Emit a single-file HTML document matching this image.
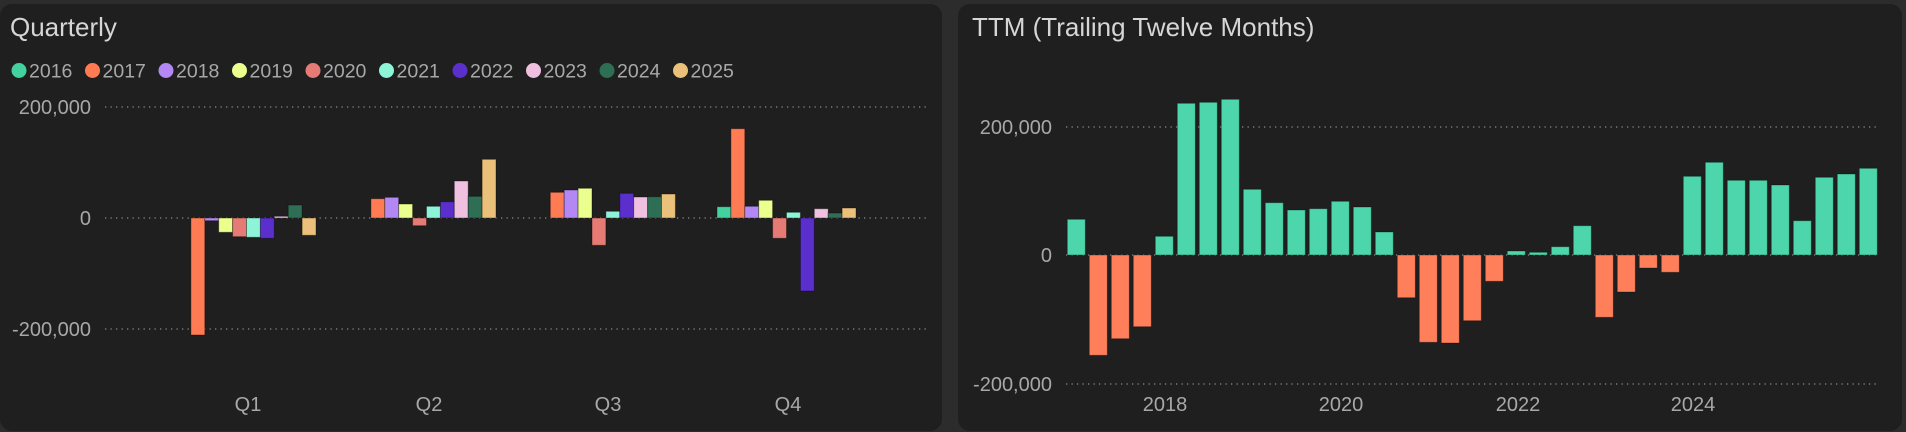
<!DOCTYPE html>
<html><head><meta charset="utf-8"><style>
html,body{margin:0;padding:0;background:#2c2c2c;width:1906px;height:432px;overflow:hidden}
svg{display:block;font-family:"Liberation Sans",sans-serif}
</style></head><body>
<svg width="1906" height="432" viewBox="0 0 1906 432">
<rect x="0" y="0" width="1906" height="432" fill="#2c2c2c"/>
<rect x="0" y="4" width="942" height="427" rx="12" fill="#1f1f1f"/>
<rect x="958" y="4" width="944" height="427" rx="12" fill="#1f1f1f"/>
<text x="10" y="36" font-size="26" fill="#d6d6d6">Quarterly</text>
<text x="972" y="36" font-size="26" fill="#d6d6d6">TTM (Trailing Twelve Months)</text>
<g font-size="19.5" fill="#a8a8a8">
<circle cx="19" cy="70.5" r="7.5" fill="#44d1a0"/><text x="29" y="77.5">2016</text>
<circle cx="92.5" cy="70.5" r="7.5" fill="#ff7b54"/><text x="102.5" y="77.5">2017</text>
<circle cx="166" cy="70.5" r="7.5" fill="#b388f5"/><text x="176" y="77.5">2018</text>
<circle cx="239.5" cy="70.5" r="7.5" fill="#eaff8e"/><text x="249.5" y="77.5">2019</text>
<circle cx="313" cy="70.5" r="7.5" fill="#e57b74"/><text x="323" y="77.5">2020</text>
<circle cx="386.5" cy="70.5" r="7.5" fill="#8ef4d8"/><text x="396.5" y="77.5">2021</text>
<circle cx="460" cy="70.5" r="7.5" fill="#5a2fcb"/><text x="470" y="77.5">2022</text>
<circle cx="533.5" cy="70.5" r="7.5" fill="#f0c0e0"/><text x="543.5" y="77.5">2023</text>
<circle cx="607" cy="70.5" r="7.5" fill="#2d6e55"/><text x="617" y="77.5">2024</text>
<circle cx="680.5" cy="70.5" r="7.5" fill="#ebc07a"/><text x="690.5" y="77.5">2025</text>
</g>
<g stroke="#8a8a8a" stroke-width="1.3" stroke-dasharray="1.3,4.2">
<line x1="105" y1="107" x2="930" y2="107"/><line x1="105" y1="218" x2="930" y2="218"/><line x1="105" y1="329" x2="930" y2="329"/>
<line x1="1066" y1="127" x2="1878" y2="127"/><line x1="1066" y1="255" x2="1878" y2="255"/><line x1="1066" y1="384" x2="1878" y2="384"/>
</g>
<g font-size="20" fill="#a8a8a8" text-anchor="end">
<text x="91" y="114">200,000</text><text x="91" y="225">0</text><text x="91" y="336">-200,000</text>
<text x="1052" y="134">200,000</text><text x="1052" y="262">0</text><text x="1052" y="391">-200,000</text>
</g>
<g font-size="20" fill="#a8a8a8" text-anchor="middle">
<text x="248" y="411">Q1</text><text x="429" y="411">Q2</text><text x="608" y="411">Q3</text><text x="788" y="411">Q4</text>
<text x="1165" y="411">2018</text><text x="1341" y="411">2020</text><text x="1518" y="411">2022</text><text x="1693" y="411">2024</text>
</g>
<g stroke="rgba(0,0,0,0.35)" stroke-width="1">
<!-- Q1 -->
<rect x="190.9" y="218" width="13.9" height="117" fill="#ff7b54"/>
<rect x="204.8" y="218" width="13.9" height="2.7" fill="#b388f5"/>
<rect x="218.7" y="218" width="13.9" height="14.3" fill="#eaff8e"/>
<rect x="232.6" y="218" width="13.9" height="18.7" fill="#e57b74"/>
<rect x="246.5" y="218" width="13.9" height="19.3" fill="#8ef4d8"/>
<rect x="260.4" y="218" width="13.9" height="20.3" fill="#5a2fcb"/>
<rect x="274.3" y="216.3" width="13.9" height="1.7" fill="#f0c0e0"/>
<rect x="288.2" y="205" width="13.9" height="13" fill="#2d6e55"/>
<rect x="302.1" y="218" width="13.9" height="17.3" fill="#ebc07a"/>
<!-- Q2 -->
<rect x="370.9" y="198.7" width="13.9" height="19.3" fill="#ff7b54"/>
<rect x="384.8" y="197.3" width="13.9" height="20.7" fill="#b388f5"/>
<rect x="398.7" y="204" width="13.9" height="14" fill="#eaff8e"/>
<rect x="412.6" y="218" width="13.9" height="7.7" fill="#e57b74"/>
<rect x="426.5" y="206.3" width="13.9" height="11.7" fill="#8ef4d8"/>
<rect x="440.4" y="201.7" width="13.9" height="16.3" fill="#5a2fcb"/>
<rect x="454.3" y="181" width="13.9" height="37" fill="#f0c0e0"/>
<rect x="468.2" y="196.3" width="13.9" height="21.7" fill="#2d6e55"/>
<rect x="482.1" y="159.3" width="13.9" height="58.7" fill="#ebc07a"/>
<!-- Q3 -->
<rect x="550.3" y="192.3" width="13.9" height="25.7" fill="#ff7b54"/>
<rect x="564.2" y="190" width="13.9" height="28" fill="#b388f5"/>
<rect x="578.1" y="188.3" width="13.9" height="29.7" fill="#eaff8e"/>
<rect x="592" y="218" width="13.9" height="27.3" fill="#e57b74"/>
<rect x="605.9" y="211.3" width="13.9" height="6.7" fill="#8ef4d8"/>
<rect x="619.8" y="193.3" width="13.9" height="24.7" fill="#5a2fcb"/>
<rect x="633.7" y="197" width="13.9" height="21" fill="#f0c0e0"/>
<rect x="647.6" y="196.7" width="13.9" height="21.3" fill="#2d6e55"/>
<rect x="661.5" y="194" width="13.9" height="24" fill="#ebc07a"/>
<!-- Q4 -->
<rect x="717" y="206.7" width="13.9" height="11.3" fill="#44d1a0"/>
<rect x="730.9" y="128.7" width="13.9" height="89.3" fill="#ff7b54"/>
<rect x="744.8" y="206.3" width="13.9" height="11.7" fill="#b388f5"/>
<rect x="758.7" y="200.3" width="13.9" height="17.7" fill="#eaff8e"/>
<rect x="772.6" y="218" width="13.9" height="20.3" fill="#e57b74"/>
<rect x="786.5" y="212.3" width="13.9" height="5.7" fill="#8ef4d8"/>
<rect x="800.4" y="218" width="13.9" height="73" fill="#5a2fcb"/>
<rect x="814.3" y="208.7" width="13.9" height="9.3" fill="#f0c0e0"/>
<rect x="828.2" y="213" width="13.9" height="5" fill="#2d6e55"/>
<rect x="842.1" y="208" width="13.9" height="10" fill="#ebc07a"/>
</g>
<g stroke="rgba(0,0,0,0.3)" stroke-width="1">
<rect x="1067.3" y="219.3" width="18" height="35.7" fill="#4dd6ab"/>
<rect x="1089.3" y="255" width="18" height="100.3" fill="#ff7f5b"/>
<rect x="1111.3" y="255" width="18" height="83.7" fill="#ff7f5b"/>
<rect x="1133.3" y="255" width="18" height="71.7" fill="#ff7f5b"/>
<rect x="1155.3" y="236.3" width="18" height="18.7" fill="#4dd6ab"/>
<rect x="1177.3" y="103.3" width="18" height="151.7" fill="#4dd6ab"/>
<rect x="1199.3" y="102.3" width="18" height="152.7" fill="#4dd6ab"/>
<rect x="1221.3" y="99.3" width="18" height="155.7" fill="#4dd6ab"/>
<rect x="1243.3" y="189.3" width="18" height="65.7" fill="#4dd6ab"/>
<rect x="1265.3" y="202.7" width="18" height="52.3" fill="#4dd6ab"/>
<rect x="1287.3" y="210" width="18" height="45" fill="#4dd6ab"/>
<rect x="1309.3" y="208.7" width="18" height="46.3" fill="#4dd6ab"/>
<rect x="1331.3" y="201.3" width="18" height="53.7" fill="#4dd6ab"/>
<rect x="1353.3" y="207" width="18" height="48" fill="#4dd6ab"/>
<rect x="1375.3" y="232" width="18" height="23" fill="#4dd6ab"/>
<rect x="1397.3" y="255" width="18" height="42.7" fill="#ff7f5b"/>
<rect x="1419.3" y="255" width="18" height="87.3" fill="#ff7f5b"/>
<rect x="1441.3" y="255" width="18" height="88" fill="#ff7f5b"/>
<rect x="1463.3" y="255" width="18" height="65.7" fill="#ff7f5b"/>
<rect x="1485.3" y="255" width="18" height="26.3" fill="#ff7f5b"/>
<rect x="1507.3" y="251" width="18" height="4" fill="#4dd6ab"/>
<rect x="1529.3" y="252.3" width="18" height="2.7" fill="#4dd6ab"/>
<rect x="1551.3" y="246.7" width="18" height="8.3" fill="#4dd6ab"/>
<rect x="1573.3" y="225.7" width="18" height="29.3" fill="#4dd6ab"/>
<rect x="1595.3" y="255" width="18" height="62.3" fill="#ff7f5b"/>
<rect x="1617.3" y="255" width="18" height="37" fill="#ff7f5b"/>
<rect x="1639.3" y="255" width="18" height="13" fill="#ff7f5b"/>
<rect x="1661.3" y="255" width="18" height="17.3" fill="#ff7f5b"/>
<rect x="1683.3" y="176.3" width="18" height="78.7" fill="#4dd6ab"/>
<rect x="1705.3" y="162.3" width="18" height="92.7" fill="#4dd6ab"/>
<rect x="1727.3" y="180.3" width="18" height="74.7" fill="#4dd6ab"/>
<rect x="1749.3" y="180.3" width="18" height="74.7" fill="#4dd6ab"/>
<rect x="1771.3" y="185" width="18" height="70" fill="#4dd6ab"/>
<rect x="1793.3" y="220.7" width="18" height="34.3" fill="#4dd6ab"/>
<rect x="1815.3" y="177.3" width="18" height="77.7" fill="#4dd6ab"/>
<rect x="1837.3" y="174" width="18" height="81" fill="#4dd6ab"/>
<rect x="1859.3" y="168.3" width="18" height="86.7" fill="#4dd6ab"/>
</g>
</svg>
</body></html>
